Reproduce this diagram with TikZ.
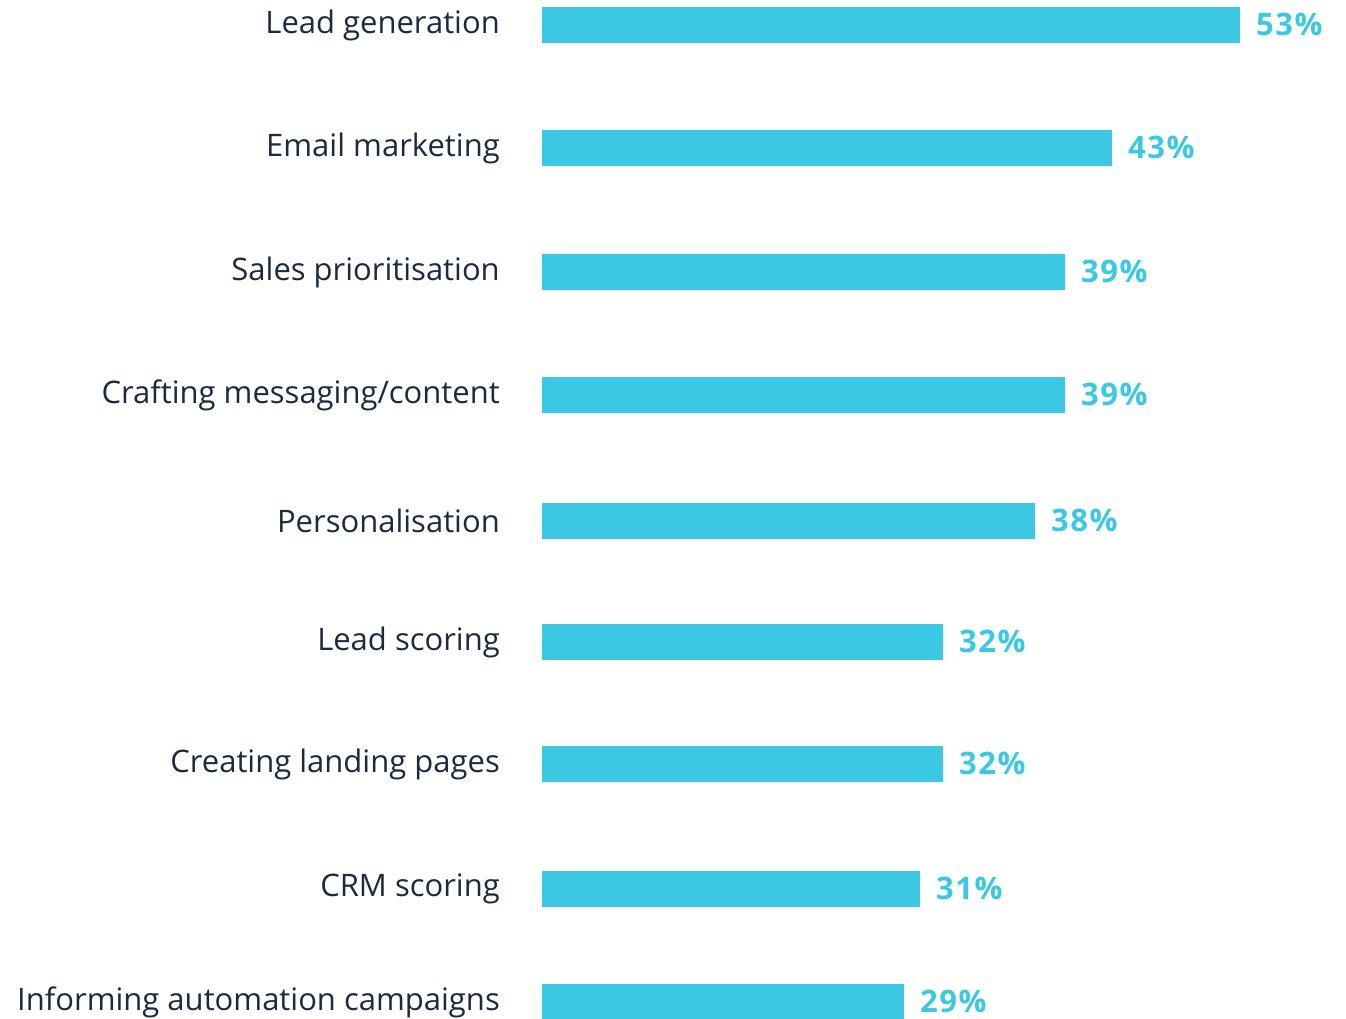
\documentclass[tikz,border=0pt]{standalone}
\usepackage{fontspec}
\setmainfont{Open Sans}[Ligatures=NoCommon]
\definecolor{barc}{HTML}{3AC8E2}
\definecolor{labc}{HTML}{1B2A3E}
\begin{document}
\begin{tikzpicture}[x=1pt,y=-1pt,
  bar/.style={fill=barc,draw=none},
  lab/.style={anchor=east,text=labc,font=\fontsize{31}{36}\selectfont,inner sep=0pt},
  pct/.style={anchor=west,text=barc,font=\fontsize{31}{36}\selectfont\bfseries\addfontfeatures{LetterSpace=5},inner sep=0pt}]
\useasboundingbox (0,0) rectangle (1346,1019);
\foreach \i/\txt/\xr/\yc/\p in {
 1/Lead generation/1240/25/53\%,
 2/Email marketing/1112/148/43\%,
 3/Sales prioritisation/1065/272/39\%,
 4/Crafting messaging\slash content/1065/395/39\%,
 5/Personalisation/1035/521/38\%,
 6/Lead scoring/943/642/32\%,
 7/Creating landing pages/943/764/32\%,
 8/CRM scoring/920/889/31\%,
 9/Informing automation campaigns/904/1002/29\%}{
  \node[lab] (l\i) at (500,\yc) {\txt};
  \path[bar] (542,\yc-18) rectangle (\xr,\yc+18);
  \node[pct] (p\i) at (\xr+16,\yc-1) {\p};
}
\end{tikzpicture}
\end{document}
